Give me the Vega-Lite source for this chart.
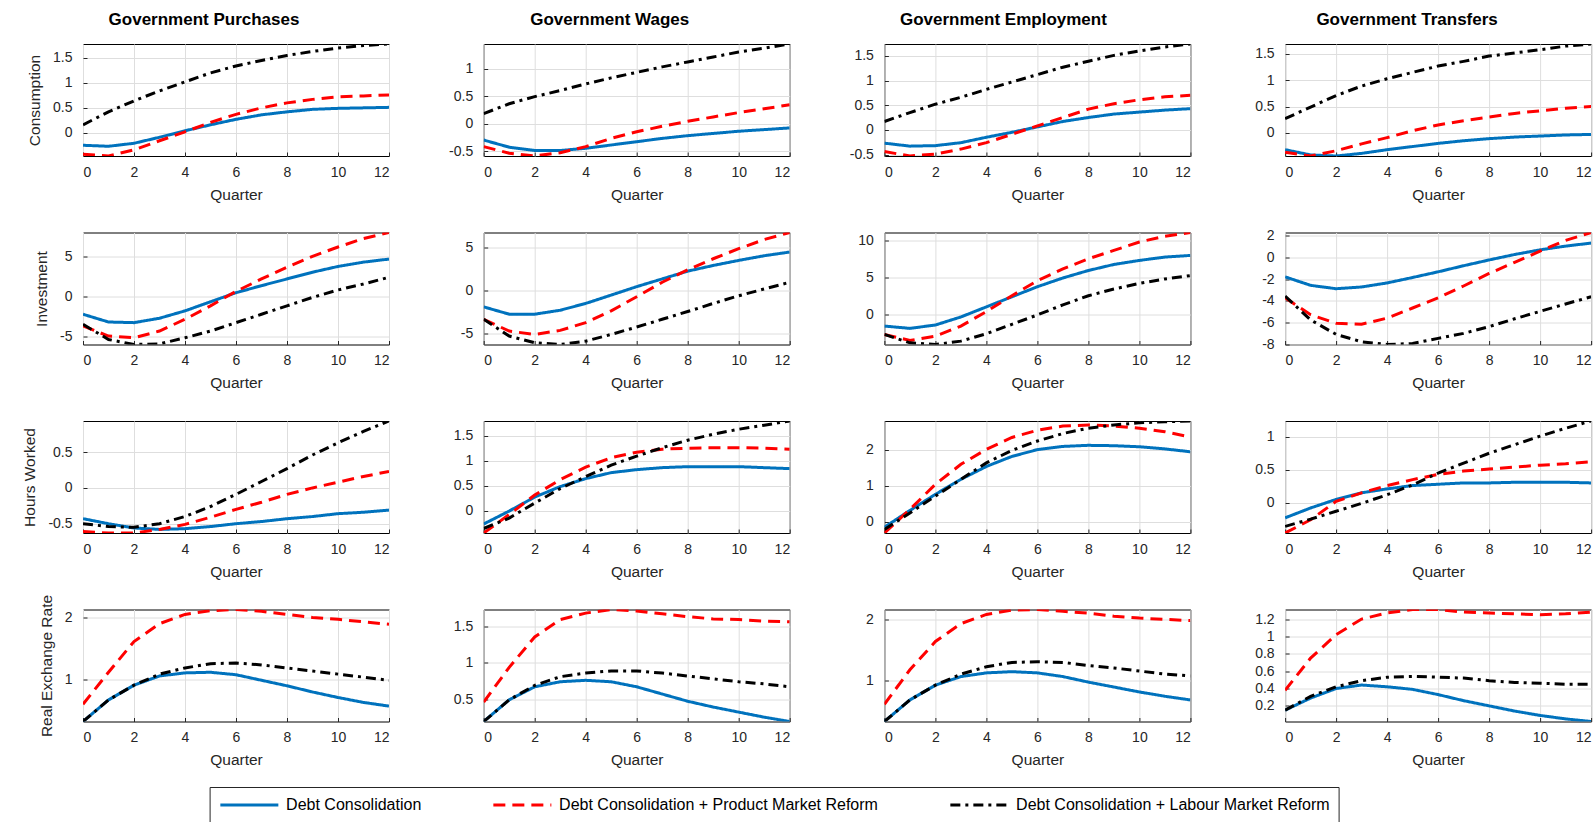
{
"$schema":"https://vega.github.io/schema/vega-lite/v6.json",
"padding":{"left":22,"top":10,"right":5,"bottom":5},
"background":"white",
"datasets":{"d":[
{"p":"CP","k":"DC","q":0,"v":-0.25},{"p":"CP","k":"DC","q":1,"v":-0.27},{"p":"CP","k":"DC","q":2,"v":-0.21},{"p":"CP","k":"DC","q":3,"v":-0.09},{"p":"CP","k":"DC","q":4,"v":0.04},{"p":"CP","k":"DC","q":5,"v":0.16},{"p":"CP","k":"DC","q":6,"v":0.27},{"p":"CP","k":"DC","q":7,"v":0.36},{"p":"CP","k":"DC","q":8,"v":0.42},{"p":"CP","k":"DC","q":9,"v":0.47},{"p":"CP","k":"DC","q":10,"v":0.49},{"p":"CP","k":"DC","q":11,"v":0.5},{"p":"CP","k":"DC","q":12,"v":0.51},
{"p":"CP","k":"PM","q":0,"v":-0.43},{"p":"CP","k":"PM","q":1,"v":-0.465},{"p":"CP","k":"PM","q":2,"v":-0.34},{"p":"CP","k":"PM","q":3,"v":-0.16},{"p":"CP","k":"PM","q":4,"v":0.02},{"p":"CP","k":"PM","q":5,"v":0.21},{"p":"CP","k":"PM","q":6,"v":0.37},{"p":"CP","k":"PM","q":7,"v":0.5},{"p":"CP","k":"PM","q":8,"v":0.6},{"p":"CP","k":"PM","q":9,"v":0.67},{"p":"CP","k":"PM","q":10,"v":0.72},{"p":"CP","k":"PM","q":11,"v":0.74},{"p":"CP","k":"PM","q":12,"v":0.76},
{"p":"CP","k":"LM","q":0,"v":0.16},{"p":"CP","k":"LM","q":1,"v":0.42},{"p":"CP","k":"LM","q":2,"v":0.64},{"p":"CP","k":"LM","q":3,"v":0.84},{"p":"CP","k":"LM","q":4,"v":1.02},{"p":"CP","k":"LM","q":5,"v":1.2},{"p":"CP","k":"LM","q":6,"v":1.34},{"p":"CP","k":"LM","q":7,"v":1.45},{"p":"CP","k":"LM","q":8,"v":1.55},{"p":"CP","k":"LM","q":9,"v":1.63},{"p":"CP","k":"LM","q":10,"v":1.7},{"p":"CP","k":"LM","q":11,"v":1.75},{"p":"CP","k":"LM","q":12,"v":1.78},
{"p":"CW","k":"DC","q":0,"v":-0.3},{"p":"CW","k":"DC","q":1,"v":-0.43},{"p":"CW","k":"DC","q":2,"v":-0.49},{"p":"CW","k":"DC","q":3,"v":-0.49},{"p":"CW","k":"DC","q":4,"v":-0.45},{"p":"CW","k":"DC","q":5,"v":-0.39},{"p":"CW","k":"DC","q":6,"v":-0.33},{"p":"CW","k":"DC","q":7,"v":-0.27},{"p":"CW","k":"DC","q":8,"v":-0.22},{"p":"CW","k":"DC","q":9,"v":-0.18},{"p":"CW","k":"DC","q":10,"v":-0.14},{"p":"CW","k":"DC","q":11,"v":-0.11},{"p":"CW","k":"DC","q":12,"v":-0.08},
{"p":"CW","k":"PM","q":0,"v":-0.42},{"p":"CW","k":"PM","q":1,"v":-0.54},{"p":"CW","k":"PM","q":2,"v":-0.59},{"p":"CW","k":"PM","q":3,"v":-0.53},{"p":"CW","k":"PM","q":4,"v":-0.42},{"p":"CW","k":"PM","q":5,"v":-0.27},{"p":"CW","k":"PM","q":6,"v":-0.15},{"p":"CW","k":"PM","q":7,"v":-0.05},{"p":"CW","k":"PM","q":8,"v":0.04},{"p":"CW","k":"PM","q":9,"v":0.12},{"p":"CW","k":"PM","q":10,"v":0.2},{"p":"CW","k":"PM","q":11,"v":0.27},{"p":"CW","k":"PM","q":12,"v":0.34},
{"p":"CW","k":"LM","q":0,"v":0.18},{"p":"CW","k":"LM","q":1,"v":0.36},{"p":"CW","k":"LM","q":2,"v":0.49},{"p":"CW","k":"LM","q":3,"v":0.6},{"p":"CW","k":"LM","q":4,"v":0.72},{"p":"CW","k":"LM","q":5,"v":0.83},{"p":"CW","k":"LM","q":6,"v":0.93},{"p":"CW","k":"LM","q":7,"v":1.03},{"p":"CW","k":"LM","q":8,"v":1.12},{"p":"CW","k":"LM","q":9,"v":1.21},{"p":"CW","k":"LM","q":10,"v":1.3},{"p":"CW","k":"LM","q":11,"v":1.37},{"p":"CW","k":"LM","q":12,"v":1.446},
{"p":"CE","k":"DC","q":0,"v":-0.27},{"p":"CE","k":"DC","q":1,"v":-0.33},{"p":"CE","k":"DC","q":2,"v":-0.32},{"p":"CE","k":"DC","q":3,"v":-0.26},{"p":"CE","k":"DC","q":4,"v":-0.15},{"p":"CE","k":"DC","q":5,"v":-0.05},{"p":"CE","k":"DC","q":6,"v":0.06},{"p":"CE","k":"DC","q":7,"v":0.17},{"p":"CE","k":"DC","q":8,"v":0.25},{"p":"CE","k":"DC","q":9,"v":0.32},{"p":"CE","k":"DC","q":10,"v":0.36},{"p":"CE","k":"DC","q":11,"v":0.4},{"p":"CE","k":"DC","q":12,"v":0.43},
{"p":"CE","k":"PM","q":0,"v":-0.44},{"p":"CE","k":"PM","q":1,"v":-0.53},{"p":"CE","k":"PM","q":2,"v":-0.49},{"p":"CE","k":"PM","q":3,"v":-0.39},{"p":"CE","k":"PM","q":4,"v":-0.26},{"p":"CE","k":"PM","q":5,"v":-0.09},{"p":"CE","k":"PM","q":6,"v":0.08},{"p":"CE","k":"PM","q":7,"v":0.25},{"p":"CE","k":"PM","q":8,"v":0.42},{"p":"CE","k":"PM","q":9,"v":0.53},{"p":"CE","k":"PM","q":10,"v":0.61},{"p":"CE","k":"PM","q":11,"v":0.67},{"p":"CE","k":"PM","q":12,"v":0.7},
{"p":"CE","k":"LM","q":0,"v":0.17},{"p":"CE","k":"LM","q":1,"v":0.35},{"p":"CE","k":"LM","q":2,"v":0.52},{"p":"CE","k":"LM","q":3,"v":0.66},{"p":"CE","k":"LM","q":4,"v":0.82},{"p":"CE","k":"LM","q":5,"v":0.97},{"p":"CE","k":"LM","q":6,"v":1.12},{"p":"CE","k":"LM","q":7,"v":1.27},{"p":"CE","k":"LM","q":8,"v":1.39},{"p":"CE","k":"LM","q":9,"v":1.51},{"p":"CE","k":"LM","q":10,"v":1.6},{"p":"CE","k":"LM","q":11,"v":1.68},{"p":"CE","k":"LM","q":12,"v":1.74},
{"p":"CT","k":"DC","q":0,"v":-0.32},{"p":"CT","k":"DC","q":1,"v":-0.42},{"p":"CT","k":"DC","q":2,"v":-0.44},{"p":"CT","k":"DC","q":3,"v":-0.39},{"p":"CT","k":"DC","q":4,"v":-0.32},{"p":"CT","k":"DC","q":5,"v":-0.26},{"p":"CT","k":"DC","q":6,"v":-0.2},{"p":"CT","k":"DC","q":7,"v":-0.15},{"p":"CT","k":"DC","q":8,"v":-0.11},{"p":"CT","k":"DC","q":9,"v":-0.08},{"p":"CT","k":"DC","q":10,"v":-0.06},{"p":"CT","k":"DC","q":11,"v":-0.04},{"p":"CT","k":"DC","q":12,"v":-0.03},
{"p":"CT","k":"PM","q":0,"v":-0.37},{"p":"CT","k":"PM","q":1,"v":-0.44},{"p":"CT","k":"PM","q":2,"v":-0.34},{"p":"CT","k":"PM","q":3,"v":-0.21},{"p":"CT","k":"PM","q":4,"v":-0.09},{"p":"CT","k":"PM","q":5,"v":0.04},{"p":"CT","k":"PM","q":6,"v":0.15},{"p":"CT","k":"PM","q":7,"v":0.23},{"p":"CT","k":"PM","q":8,"v":0.3},{"p":"CT","k":"PM","q":9,"v":0.37},{"p":"CT","k":"PM","q":10,"v":0.42},{"p":"CT","k":"PM","q":11,"v":0.47},{"p":"CT","k":"PM","q":12,"v":0.5},
{"p":"CT","k":"LM","q":0,"v":0.27},{"p":"CT","k":"LM","q":1,"v":0.49},{"p":"CT","k":"LM","q":2,"v":0.71},{"p":"CT","k":"LM","q":3,"v":0.89},{"p":"CT","k":"LM","q":4,"v":1.03},{"p":"CT","k":"LM","q":5,"v":1.15},{"p":"CT","k":"LM","q":6,"v":1.27},{"p":"CT","k":"LM","q":7,"v":1.36},{"p":"CT","k":"LM","q":8,"v":1.46},{"p":"CT","k":"LM","q":9,"v":1.52},{"p":"CT","k":"LM","q":10,"v":1.58},{"p":"CT","k":"LM","q":11,"v":1.65},{"p":"CT","k":"LM","q":12,"v":1.69},
{"p":"IP","k":"DC","q":0,"v":-2.27},{"p":"IP","k":"DC","q":1,"v":-3.24},{"p":"IP","k":"DC","q":2,"v":-3.32},{"p":"IP","k":"DC","q":3,"v":-2.77},{"p":"IP","k":"DC","q":4,"v":-1.85},{"p":"IP","k":"DC","q":5,"v":-0.71},{"p":"IP","k":"DC","q":6,"v":0.42},{"p":"IP","k":"DC","q":7,"v":1.3},{"p":"IP","k":"DC","q":8,"v":2.14},{"p":"IP","k":"DC","q":9,"v":2.98},{"p":"IP","k":"DC","q":10,"v":3.7},{"p":"IP","k":"DC","q":11,"v":4.24},{"p":"IP","k":"DC","q":12,"v":4.62},
{"p":"IP","k":"PM","q":0,"v":-3.74},{"p":"IP","k":"PM","q":1,"v":-5.0},{"p":"IP","k":"PM","q":2,"v":-5.21},{"p":"IP","k":"PM","q":3,"v":-4.37},{"p":"IP","k":"PM","q":4,"v":-2.9},{"p":"IP","k":"PM","q":5,"v":-1.22},{"p":"IP","k":"PM","q":6,"v":0.59},{"p":"IP","k":"PM","q":7,"v":2.14},{"p":"IP","k":"PM","q":8,"v":3.61},{"p":"IP","k":"PM","q":9,"v":4.96},{"p":"IP","k":"PM","q":10,"v":6.13},{"p":"IP","k":"PM","q":11,"v":7.18},{"p":"IP","k":"PM","q":12,"v":7.94},
{"p":"IP","k":"LM","q":0,"v":-3.53},{"p":"IP","k":"LM","q":1,"v":-5.42},{"p":"IP","k":"LM","q":2,"v":-6.05},{"p":"IP","k":"LM","q":3,"v":-5.97},{"p":"IP","k":"LM","q":4,"v":-5.21},{"p":"IP","k":"LM","q":5,"v":-4.37},{"p":"IP","k":"LM","q":6,"v":-3.32},{"p":"IP","k":"LM","q":7,"v":-2.27},{"p":"IP","k":"LM","q":8,"v":-1.22},{"p":"IP","k":"LM","q":9,"v":-0.17},{"p":"IP","k":"LM","q":10,"v":0.76},{"p":"IP","k":"LM","q":11,"v":1.51},{"p":"IP","k":"LM","q":12,"v":2.35},
{"p":"IW","k":"DC","q":0,"v":-1.88},{"p":"IW","k":"DC","q":1,"v":-2.73},{"p":"IW","k":"DC","q":2,"v":-2.73},{"p":"IW","k":"DC","q":3,"v":-2.27},{"p":"IW","k":"DC","q":4,"v":-1.48},{"p":"IW","k":"DC","q":5,"v":-0.51},{"p":"IW","k":"DC","q":6,"v":0.47},{"p":"IW","k":"DC","q":7,"v":1.37},{"p":"IW","k":"DC","q":8,"v":2.27},{"p":"IW","k":"DC","q":9,"v":2.93},{"p":"IW","k":"DC","q":10,"v":3.52},{"p":"IW","k":"DC","q":11,"v":4.06},{"p":"IW","k":"DC","q":12,"v":4.49},
{"p":"IW","k":"PM","q":0,"v":-3.32},{"p":"IW","k":"PM","q":1,"v":-4.69},{"p":"IW","k":"PM","q":2,"v":-5.08},{"p":"IW","k":"PM","q":3,"v":-4.61},{"p":"IW","k":"PM","q":4,"v":-3.71},{"p":"IW","k":"PM","q":5,"v":-2.34},{"p":"IW","k":"PM","q":6,"v":-0.7},{"p":"IW","k":"PM","q":7,"v":0.98},{"p":"IW","k":"PM","q":8,"v":2.42},{"p":"IW","k":"PM","q":9,"v":3.71},{"p":"IW","k":"PM","q":10,"v":4.88},{"p":"IW","k":"PM","q":11,"v":5.94},{"p":"IW","k":"PM","q":12,"v":6.76},
{"p":"IW","k":"LM","q":0,"v":-3.32},{"p":"IW","k":"LM","q":1,"v":-5.27},{"p":"IW","k":"LM","q":2,"v":-6.05},{"p":"IW","k":"LM","q":3,"v":-6.25},{"p":"IW","k":"LM","q":4,"v":-5.86},{"p":"IW","k":"LM","q":5,"v":-5.08},{"p":"IW","k":"LM","q":6,"v":-4.22},{"p":"IW","k":"LM","q":7,"v":-3.32},{"p":"IW","k":"LM","q":8,"v":-2.42},{"p":"IW","k":"LM","q":9,"v":-1.48},{"p":"IW","k":"LM","q":10,"v":-0.59},{"p":"IW","k":"LM","q":11,"v":0.2},{"p":"IW","k":"LM","q":12,"v":0.98},
{"p":"IE","k":"DC","q":0,"v":-1.49},{"p":"IE","k":"DC","q":1,"v":-1.8},{"p":"IE","k":"DC","q":2,"v":-1.35},{"p":"IE","k":"DC","q":3,"v":-0.27},{"p":"IE","k":"DC","q":4,"v":1.08},{"p":"IE","k":"DC","q":5,"v":2.43},{"p":"IE","k":"DC","q":6,"v":3.78},{"p":"IE","k":"DC","q":7,"v":4.95},{"p":"IE","k":"DC","q":8,"v":5.95},{"p":"IE","k":"DC","q":9,"v":6.76},{"p":"IE","k":"DC","q":10,"v":7.3},{"p":"IE","k":"DC","q":11,"v":7.75},{"p":"IE","k":"DC","q":12,"v":7.97},
{"p":"IE","k":"PM","q":0,"v":-2.61},{"p":"IE","k":"PM","q":1,"v":-3.42},{"p":"IE","k":"PM","q":2,"v":-2.84},{"p":"IE","k":"PM","q":3,"v":-1.49},{"p":"IE","k":"PM","q":4,"v":0.45},{"p":"IE","k":"PM","q":5,"v":2.57},{"p":"IE","k":"PM","q":6,"v":4.59},{"p":"IE","k":"PM","q":7,"v":6.17},{"p":"IE","k":"PM","q":8,"v":7.52},{"p":"IE","k":"PM","q":9,"v":8.65},{"p":"IE","k":"PM","q":10,"v":9.77},{"p":"IE","k":"PM","q":11,"v":10.54},{"p":"IE","k":"PM","q":12,"v":11.04},
{"p":"IE","k":"LM","q":0,"v":-2.61},{"p":"IE","k":"LM","q":1,"v":-3.74},{"p":"IE","k":"LM","q":2,"v":-3.96},{"p":"IE","k":"LM","q":3,"v":-3.51},{"p":"IE","k":"LM","q":4,"v":-2.52},{"p":"IE","k":"LM","q":5,"v":-1.26},{"p":"IE","k":"LM","q":6,"v":0},{"p":"IE","k":"LM","q":7,"v":1.35},{"p":"IE","k":"LM","q":8,"v":2.57},{"p":"IE","k":"LM","q":9,"v":3.47},{"p":"IE","k":"LM","q":10,"v":4.23},{"p":"IE","k":"LM","q":11,"v":4.82},{"p":"IE","k":"LM","q":12,"v":5.27},
{"p":"IT","k":"DC","q":0,"v":-1.8},{"p":"IT","k":"DC","q":1,"v":-2.58},{"p":"IT","k":"DC","q":2,"v":-2.89},{"p":"IT","k":"DC","q":3,"v":-2.73},{"p":"IT","k":"DC","q":4,"v":-2.36},{"p":"IT","k":"DC","q":5,"v":-1.86},{"p":"IT","k":"DC","q":6,"v":-1.34},{"p":"IT","k":"DC","q":7,"v":-0.78},{"p":"IT","k":"DC","q":8,"v":-0.25},{"p":"IT","k":"DC","q":9,"v":0.25},{"p":"IT","k":"DC","q":10,"v":0.68},{"p":"IT","k":"DC","q":11,"v":1.02},{"p":"IT","k":"DC","q":12,"v":1.3},
{"p":"IT","k":"PM","q":0,"v":-3.73},{"p":"IT","k":"PM","q":1,"v":-5.28},{"p":"IT","k":"PM","q":2,"v":-6.06},{"p":"IT","k":"PM","q":3,"v":-6.15},{"p":"IT","k":"PM","q":4,"v":-5.59},{"p":"IT","k":"PM","q":5,"v":-4.66},{"p":"IT","k":"PM","q":6,"v":-3.73},{"p":"IT","k":"PM","q":7,"v":-2.64},{"p":"IT","k":"PM","q":8,"v":-1.49},{"p":"IT","k":"PM","q":9,"v":-0.47},{"p":"IT","k":"PM","q":10,"v":0.56},{"p":"IT","k":"PM","q":11,"v":1.55},{"p":"IT","k":"PM","q":12,"v":2.27},
{"p":"IT","k":"LM","q":0,"v":-3.57},{"p":"IT","k":"LM","q":1,"v":-5.75},{"p":"IT","k":"LM","q":2,"v":-7.08},{"p":"IT","k":"LM","q":3,"v":-7.76},{"p":"IT","k":"LM","q":4,"v":-8.01},{"p":"IT","k":"LM","q":5,"v":-7.92},{"p":"IT","k":"LM","q":6,"v":-7.45},{"p":"IT","k":"LM","q":7,"v":-6.99},{"p":"IT","k":"LM","q":8,"v":-6.37},{"p":"IT","k":"LM","q":9,"v":-5.65},{"p":"IT","k":"LM","q":10,"v":-4.97},{"p":"IT","k":"LM","q":11,"v":-4.29},{"p":"IT","k":"LM","q":12,"v":-3.63},
{"p":"HP","k":"DC","q":0,"v":-0.43},{"p":"HP","k":"DC","q":1,"v":-0.5},{"p":"HP","k":"DC","q":2,"v":-0.56},{"p":"HP","k":"DC","q":3,"v":-0.58},{"p":"HP","k":"DC","q":4,"v":-0.57},{"p":"HP","k":"DC","q":5,"v":-0.54},{"p":"HP","k":"DC","q":6,"v":-0.5},{"p":"HP","k":"DC","q":7,"v":-0.47},{"p":"HP","k":"DC","q":8,"v":-0.43},{"p":"HP","k":"DC","q":9,"v":-0.4},{"p":"HP","k":"DC","q":10,"v":-0.36},{"p":"HP","k":"DC","q":11,"v":-0.34},{"p":"HP","k":"DC","q":12,"v":-0.31},
{"p":"HP","k":"PM","q":0,"v":-0.61},{"p":"HP","k":"PM","q":1,"v":-0.63},{"p":"HP","k":"PM","q":2,"v":-0.63},{"p":"HP","k":"PM","q":3,"v":-0.58},{"p":"HP","k":"PM","q":4,"v":-0.51},{"p":"HP","k":"PM","q":5,"v":-0.41},{"p":"HP","k":"PM","q":6,"v":-0.3},{"p":"HP","k":"PM","q":7,"v":-0.2},{"p":"HP","k":"PM","q":8,"v":-0.09},{"p":"HP","k":"PM","q":9,"v":0},{"p":"HP","k":"PM","q":10,"v":0.08},{"p":"HP","k":"PM","q":11,"v":0.16},{"p":"HP","k":"PM","q":12,"v":0.23},
{"p":"HP","k":"LM","q":0,"v":-0.5},{"p":"HP","k":"LM","q":1,"v":-0.54},{"p":"HP","k":"LM","q":2,"v":-0.55},{"p":"HP","k":"LM","q":3,"v":-0.5},{"p":"HP","k":"LM","q":4,"v":-0.4},{"p":"HP","k":"LM","q":5,"v":-0.26},{"p":"HP","k":"LM","q":6,"v":-0.09},{"p":"HP","k":"LM","q":7,"v":0.09},{"p":"HP","k":"LM","q":8,"v":0.27},{"p":"HP","k":"LM","q":9,"v":0.46},{"p":"HP","k":"LM","q":10,"v":0.63},{"p":"HP","k":"LM","q":11,"v":0.79},{"p":"HP","k":"LM","q":12,"v":0.935},
{"p":"HW","k":"DC","q":0,"v":-0.27},{"p":"HW","k":"DC","q":1,"v":-0.01},{"p":"HW","k":"DC","q":2,"v":0.27},{"p":"HW","k":"DC","q":3,"v":0.48},{"p":"HW","k":"DC","q":4,"v":0.64},{"p":"HW","k":"DC","q":5,"v":0.76},{"p":"HW","k":"DC","q":6,"v":0.82},{"p":"HW","k":"DC","q":7,"v":0.86},{"p":"HW","k":"DC","q":8,"v":0.88},{"p":"HW","k":"DC","q":9,"v":0.88},{"p":"HW","k":"DC","q":10,"v":0.88},{"p":"HW","k":"DC","q":11,"v":0.86},{"p":"HW","k":"DC","q":12,"v":0.84},
{"p":"HW","k":"PM","q":0,"v":-0.45},{"p":"HW","k":"PM","q":1,"v":-0.08},{"p":"HW","k":"PM","q":2,"v":0.31},{"p":"HW","k":"PM","q":3,"v":0.62},{"p":"HW","k":"PM","q":4,"v":0.87},{"p":"HW","k":"PM","q":5,"v":1.06},{"p":"HW","k":"PM","q":6,"v":1.17},{"p":"HW","k":"PM","q":7,"v":1.23},{"p":"HW","k":"PM","q":8,"v":1.25},{"p":"HW","k":"PM","q":9,"v":1.26},{"p":"HW","k":"PM","q":10,"v":1.26},{"p":"HW","k":"PM","q":11,"v":1.25},{"p":"HW","k":"PM","q":12,"v":1.23},
{"p":"HW","k":"LM","q":0,"v":-0.36},{"p":"HW","k":"LM","q":1,"v":-0.15},{"p":"HW","k":"LM","q":2,"v":0.15},{"p":"HW","k":"LM","q":3,"v":0.44},{"p":"HW","k":"LM","q":4,"v":0.68},{"p":"HW","k":"LM","q":5,"v":0.91},{"p":"HW","k":"LM","q":6,"v":1.09},{"p":"HW","k":"LM","q":7,"v":1.26},{"p":"HW","k":"LM","q":8,"v":1.41},{"p":"HW","k":"LM","q":9,"v":1.53},{"p":"HW","k":"LM","q":10,"v":1.63},{"p":"HW","k":"LM","q":11,"v":1.71},{"p":"HW","k":"LM","q":12,"v":1.795},
{"p":"HE","k":"DC","q":0,"v":-0.16},{"p":"HE","k":"DC","q":1,"v":0.31},{"p":"HE","k":"DC","q":2,"v":0.76},{"p":"HE","k":"DC","q":3,"v":1.18},{"p":"HE","k":"DC","q":4,"v":1.54},{"p":"HE","k":"DC","q":5,"v":1.82},{"p":"HE","k":"DC","q":6,"v":2.01},{"p":"HE","k":"DC","q":7,"v":2.1},{"p":"HE","k":"DC","q":8,"v":2.13},{"p":"HE","k":"DC","q":9,"v":2.12},{"p":"HE","k":"DC","q":10,"v":2.09},{"p":"HE","k":"DC","q":11,"v":2.03},{"p":"HE","k":"DC","q":12,"v":1.95},
{"p":"HE","k":"PM","q":0,"v":-0.32},{"p":"HE","k":"PM","q":1,"v":0.34},{"p":"HE","k":"PM","q":2,"v":1.04},{"p":"HE","k":"PM","q":3,"v":1.6},{"p":"HE","k":"PM","q":4,"v":2.02},{"p":"HE","k":"PM","q":5,"v":2.35},{"p":"HE","k":"PM","q":6,"v":2.55},{"p":"HE","k":"PM","q":7,"v":2.67},{"p":"HE","k":"PM","q":8,"v":2.7},{"p":"HE","k":"PM","q":9,"v":2.67},{"p":"HE","k":"PM","q":10,"v":2.61},{"p":"HE","k":"PM","q":11,"v":2.51},{"p":"HE","k":"PM","q":12,"v":2.36},
{"p":"HE","k":"LM","q":0,"v":-0.22},{"p":"HE","k":"LM","q":1,"v":0.24},{"p":"HE","k":"LM","q":2,"v":0.71},{"p":"HE","k":"LM","q":3,"v":1.18},{"p":"HE","k":"LM","q":4,"v":1.64},{"p":"HE","k":"LM","q":5,"v":1.99},{"p":"HE","k":"LM","q":6,"v":2.25},{"p":"HE","k":"LM","q":7,"v":2.46},{"p":"HE","k":"LM","q":8,"v":2.61},{"p":"HE","k":"LM","q":9,"v":2.7},{"p":"HE","k":"LM","q":10,"v":2.76},{"p":"HE","k":"LM","q":11,"v":2.79},{"p":"HE","k":"LM","q":12,"v":2.81},
{"p":"HT","k":"DC","q":0,"v":-0.23},{"p":"HT","k":"DC","q":1,"v":-0.08},{"p":"HT","k":"DC","q":2,"v":0.05},{"p":"HT","k":"DC","q":3,"v":0.15},{"p":"HT","k":"DC","q":4,"v":0.21},{"p":"HT","k":"DC","q":5,"v":0.26},{"p":"HT","k":"DC","q":6,"v":0.28},{"p":"HT","k":"DC","q":7,"v":0.3},{"p":"HT","k":"DC","q":8,"v":0.3},{"p":"HT","k":"DC","q":9,"v":0.31},{"p":"HT","k":"DC","q":10,"v":0.31},{"p":"HT","k":"DC","q":11,"v":0.31},{"p":"HT","k":"DC","q":12,"v":0.3},
{"p":"HT","k":"PM","q":0,"v":-0.46},{"p":"HT","k":"PM","q":1,"v":-0.26},{"p":"HT","k":"PM","q":2,"v":0.02},{"p":"HT","k":"PM","q":3,"v":0.15},{"p":"HT","k":"PM","q":4,"v":0.26},{"p":"HT","k":"PM","q":5,"v":0.35},{"p":"HT","k":"PM","q":6,"v":0.43},{"p":"HT","k":"PM","q":7,"v":0.48},{"p":"HT","k":"PM","q":8,"v":0.51},{"p":"HT","k":"PM","q":9,"v":0.54},{"p":"HT","k":"PM","q":10,"v":0.57},{"p":"HT","k":"PM","q":11,"v":0.59},{"p":"HT","k":"PM","q":12,"v":0.62},
{"p":"HT","k":"LM","q":0,"v":-0.36},{"p":"HT","k":"LM","q":1,"v":-0.25},{"p":"HT","k":"LM","q":2,"v":-0.13},{"p":"HT","k":"LM","q":3,"v":-0.01},{"p":"HT","k":"LM","q":4,"v":0.12},{"p":"HT","k":"LM","q":5,"v":0.27},{"p":"HT","k":"LM","q":6,"v":0.45},{"p":"HT","k":"LM","q":7,"v":0.6},{"p":"HT","k":"LM","q":8,"v":0.75},{"p":"HT","k":"LM","q":9,"v":0.88},{"p":"HT","k":"LM","q":10,"v":1.01},{"p":"HT","k":"LM","q":11,"v":1.13},{"p":"HT","k":"LM","q":12,"v":1.24},
{"p":"RP","k":"DC","q":0,"v":0.31},{"p":"RP","k":"DC","q":1,"v":0.66},{"p":"RP","k":"DC","q":2,"v":0.9},{"p":"RP","k":"DC","q":3,"v":1.05},{"p":"RP","k":"DC","q":4,"v":1.1},{"p":"RP","k":"DC","q":5,"v":1.11},{"p":"RP","k":"DC","q":6,"v":1.07},{"p":"RP","k":"DC","q":7,"v":0.98},{"p":"RP","k":"DC","q":8,"v":0.89},{"p":"RP","k":"DC","q":9,"v":0.79},{"p":"RP","k":"DC","q":10,"v":0.7},{"p":"RP","k":"DC","q":11,"v":0.62},{"p":"RP","k":"DC","q":12,"v":0.56},
{"p":"RP","k":"PM","q":0,"v":0.59},{"p":"RP","k":"PM","q":1,"v":1.11},{"p":"RP","k":"PM","q":2,"v":1.61},{"p":"RP","k":"PM","q":3,"v":1.9},{"p":"RP","k":"PM","q":4,"v":2.05},{"p":"RP","k":"PM","q":5,"v":2.11},{"p":"RP","k":"PM","q":6,"v":2.13},{"p":"RP","k":"PM","q":7,"v":2.1},{"p":"RP","k":"PM","q":8,"v":2.05},{"p":"RP","k":"PM","q":9,"v":2.0},{"p":"RP","k":"PM","q":10,"v":1.97},{"p":"RP","k":"PM","q":11,"v":1.93},{"p":"RP","k":"PM","q":12,"v":1.89},
{"p":"RP","k":"LM","q":0,"v":0.31},{"p":"RP","k":"LM","q":1,"v":0.66},{"p":"RP","k":"LM","q":2,"v":0.9},{"p":"RP","k":"LM","q":3,"v":1.08},{"p":"RP","k":"LM","q":4,"v":1.18},{"p":"RP","k":"LM","q":5,"v":1.25},{"p":"RP","k":"LM","q":6,"v":1.26},{"p":"RP","k":"LM","q":7,"v":1.23},{"p":"RP","k":"LM","q":8,"v":1.18},{"p":"RP","k":"LM","q":9,"v":1.13},{"p":"RP","k":"LM","q":10,"v":1.08},{"p":"RP","k":"LM","q":11,"v":1.03},{"p":"RP","k":"LM","q":12,"v":0.98},
{"p":"RW","k":"DC","q":0,"v":0.19},{"p":"RW","k":"DC","q":1,"v":0.49},{"p":"RW","k":"DC","q":2,"v":0.67},{"p":"RW","k":"DC","q":3,"v":0.74},{"p":"RW","k":"DC","q":4,"v":0.76},{"p":"RW","k":"DC","q":5,"v":0.74},{"p":"RW","k":"DC","q":6,"v":0.67},{"p":"RW","k":"DC","q":7,"v":0.57},{"p":"RW","k":"DC","q":8,"v":0.47},{"p":"RW","k":"DC","q":9,"v":0.39},{"p":"RW","k":"DC","q":10,"v":0.32},{"p":"RW","k":"DC","q":11,"v":0.25},{"p":"RW","k":"DC","q":12,"v":0.19},
{"p":"RW","k":"PM","q":0,"v":0.46},{"p":"RW","k":"PM","q":1,"v":0.94},{"p":"RW","k":"PM","q":2,"v":1.36},{"p":"RW","k":"PM","q":3,"v":1.6},{"p":"RW","k":"PM","q":4,"v":1.69},{"p":"RW","k":"PM","q":5,"v":1.74},{"p":"RW","k":"PM","q":6,"v":1.72},{"p":"RW","k":"PM","q":7,"v":1.68},{"p":"RW","k":"PM","q":8,"v":1.64},{"p":"RW","k":"PM","q":9,"v":1.61},{"p":"RW","k":"PM","q":10,"v":1.6},{"p":"RW","k":"PM","q":11,"v":1.58},{"p":"RW","k":"PM","q":12,"v":1.57},
{"p":"RW","k":"LM","q":0,"v":0.19},{"p":"RW","k":"LM","q":1,"v":0.49},{"p":"RW","k":"LM","q":2,"v":0.69},{"p":"RW","k":"LM","q":3,"v":0.81},{"p":"RW","k":"LM","q":4,"v":0.86},{"p":"RW","k":"LM","q":5,"v":0.89},{"p":"RW","k":"LM","q":6,"v":0.89},{"p":"RW","k":"LM","q":7,"v":0.86},{"p":"RW","k":"LM","q":8,"v":0.82},{"p":"RW","k":"LM","q":9,"v":0.78},{"p":"RW","k":"LM","q":10,"v":0.74},{"p":"RW","k":"LM","q":11,"v":0.71},{"p":"RW","k":"LM","q":12,"v":0.67},
{"p":"RE","k":"DC","q":0,"v":0.34},{"p":"RE","k":"DC","q":1,"v":0.69},{"p":"RE","k":"DC","q":2,"v":0.93},{"p":"RE","k":"DC","q":3,"v":1.07},{"p":"RE","k":"DC","q":4,"v":1.13},{"p":"RE","k":"DC","q":5,"v":1.15},{"p":"RE","k":"DC","q":6,"v":1.13},{"p":"RE","k":"DC","q":7,"v":1.07},{"p":"RE","k":"DC","q":8,"v":0.98},{"p":"RE","k":"DC","q":9,"v":0.9},{"p":"RE","k":"DC","q":10,"v":0.82},{"p":"RE","k":"DC","q":11,"v":0.75},{"p":"RE","k":"DC","q":12,"v":0.69},
{"p":"RE","k":"PM","q":0,"v":0.62},{"p":"RE","k":"PM","q":1,"v":1.18},{"p":"RE","k":"PM","q":2,"v":1.64},{"p":"RE","k":"PM","q":3,"v":1.93},{"p":"RE","k":"PM","q":4,"v":2.08},{"p":"RE","k":"PM","q":5,"v":2.15},{"p":"RE","k":"PM","q":6,"v":2.16},{"p":"RE","k":"PM","q":7,"v":2.13},{"p":"RE","k":"PM","q":8,"v":2.1},{"p":"RE","k":"PM","q":9,"v":2.05},{"p":"RE","k":"PM","q":10,"v":2.02},{"p":"RE","k":"PM","q":11,"v":2.0},{"p":"RE","k":"PM","q":12,"v":1.98},
{"p":"RE","k":"LM","q":0,"v":0.34},{"p":"RE","k":"LM","q":1,"v":0.69},{"p":"RE","k":"LM","q":2,"v":0.93},{"p":"RE","k":"LM","q":3,"v":1.11},{"p":"RE","k":"LM","q":4,"v":1.23},{"p":"RE","k":"LM","q":5,"v":1.3},{"p":"RE","k":"LM","q":6,"v":1.31},{"p":"RE","k":"LM","q":7,"v":1.3},{"p":"RE","k":"LM","q":8,"v":1.25},{"p":"RE","k":"LM","q":9,"v":1.21},{"p":"RE","k":"LM","q":10,"v":1.16},{"p":"RE","k":"LM","q":11,"v":1.11},{"p":"RE","k":"LM","q":12,"v":1.08},
{"p":"RT","k":"DC","q":0,"v":0.15},{"p":"RT","k":"DC","q":1,"v":0.29},{"p":"RT","k":"DC","q":2,"v":0.4},{"p":"RT","k":"DC","q":3,"v":0.44},{"p":"RT","k":"DC","q":4,"v":0.42},{"p":"RT","k":"DC","q":5,"v":0.39},{"p":"RT","k":"DC","q":6,"v":0.33},{"p":"RT","k":"DC","q":7,"v":0.26},{"p":"RT","k":"DC","q":8,"v":0.2},{"p":"RT","k":"DC","q":9,"v":0.14},{"p":"RT","k":"DC","q":10,"v":0.09},{"p":"RT","k":"DC","q":11,"v":0.05},{"p":"RT","k":"DC","q":12,"v":0.02},
{"p":"RT","k":"PM","q":0,"v":0.38},{"p":"RT","k":"PM","q":1,"v":0.75},{"p":"RT","k":"PM","q":2,"v":1.02},{"p":"RT","k":"PM","q":3,"v":1.2},{"p":"RT","k":"PM","q":4,"v":1.27},{"p":"RT","k":"PM","q":5,"v":1.31},{"p":"RT","k":"PM","q":6,"v":1.31},{"p":"RT","k":"PM","q":7,"v":1.28},{"p":"RT","k":"PM","q":8,"v":1.27},{"p":"RT","k":"PM","q":9,"v":1.26},{"p":"RT","k":"PM","q":10,"v":1.25},{"p":"RT","k":"PM","q":11,"v":1.26},{"p":"RT","k":"PM","q":12,"v":1.28},
{"p":"RT","k":"LM","q":0,"v":0.15},{"p":"RT","k":"LM","q":1,"v":0.31},{"p":"RT","k":"LM","q":2,"v":0.42},{"p":"RT","k":"LM","q":3,"v":0.49},{"p":"RT","k":"LM","q":4,"v":0.53},{"p":"RT","k":"LM","q":5,"v":0.54},{"p":"RT","k":"LM","q":6,"v":0.53},{"p":"RT","k":"LM","q":7,"v":0.52},{"p":"RT","k":"LM","q":8,"v":0.49},{"p":"RT","k":"LM","q":9,"v":0.47},{"p":"RT","k":"LM","q":10,"v":0.46},{"p":"RT","k":"LM","q":11,"v":0.45},{"p":"RT","k":"LM","q":12,"v":0.45}
]},
"data":{"name":"d"},
"columns":4,
"spacing":{"row":76.5,"column":94.7},
"bounds":"flush",
"resolve":{"scale":{"x":"independent","y":"independent"},"axis":{"x":"independent","y":"independent"}},
"concat":[
{"title":{"text":"Government Purchases","dx":-32},"transform":[{"filter":"datum.p=='CP'"}],"mark":{"type":"line","strokeWidth":3,"clip":true},"encoding":{"x":{"field":"q","type":"quantitative","scale":{"domain":[0,12]},"axis":{"values":[0,2,4,6,8,10,12],"title":"Quarter"}},"y":{"field":"v","type":"quantitative","scale":{"domain":[-0.465,1.78],"nice":false,"zero":false},"axis":{"values":[0,0.5,1,1.5],"title":"Consumption"}},"color":{"field":"k","type":"nominal","scale":{"domain":["DC","PM","LM"],"range":["#0072BD","#FF0000","#000000"]},"legend":{"title":null,"labelExpr":"datum.value=='DC'?'Debt Consolidation':datum.value=='PM'?'Debt Consolidation + Product Market Reform':'Debt Consolidation + Labour Market Reform'"}},"strokeDash":{"field":"k","type":"nominal","scale":{"domain":["DC","PM","LM"],"range":[[1,0],[12,7],[10,5,3,5]]},"legend":{"title":null,"labelExpr":"datum.value=='DC'?'Debt Consolidation':datum.value=='PM'?'Debt Consolidation + Product Market Reform':'Debt Consolidation + Labour Market Reform'"}}}},
{"title":{"text":"Government Wages","dx":-27},"transform":[{"filter":"datum.p=='CW'"}],"mark":{"type":"line","strokeWidth":3,"clip":true},"encoding":{"x":{"field":"q","type":"quantitative","scale":{"domain":[0,12]},"axis":{"values":[0,2,4,6,8,10,12],"title":"Quarter"}},"y":{"field":"v","type":"quantitative","scale":{"domain":[-0.59,1.446],"nice":false,"zero":false},"axis":{"values":[-0.5,0,0.5,1],"title":null}},"color":{"field":"k","type":"nominal"},"strokeDash":{"field":"k","type":"nominal"}}},
{"title":{"text":"Government Employment","dx":-34},"transform":[{"filter":"datum.p=='CE'"}],"mark":{"type":"line","strokeWidth":3,"clip":true},"encoding":{"x":{"field":"q","type":"quantitative","scale":{"domain":[0,12]},"axis":{"values":[0,2,4,6,8,10,12],"title":"Quarter"}},"y":{"field":"v","type":"quantitative","scale":{"domain":[-0.53,1.74],"nice":false,"zero":false},"axis":{"values":[-0.5,0,0.5,1,1.5],"title":null}},"color":{"field":"k","type":"nominal"},"strokeDash":{"field":"k","type":"nominal"}}},
{"title":{"text":"Government Transfers","dx":-31},"transform":[{"filter":"datum.p=='CT'"}],"mark":{"type":"line","strokeWidth":3,"clip":true},"encoding":{"x":{"field":"q","type":"quantitative","scale":{"domain":[0,12]},"axis":{"values":[0,2,4,6,8,10,12],"title":"Quarter"}},"y":{"field":"v","type":"quantitative","scale":{"domain":[-0.44,1.69],"nice":false,"zero":false},"axis":{"values":[0,0.5,1,1.5],"title":null}},"color":{"field":"k","type":"nominal"},"strokeDash":{"field":"k","type":"nominal"}}},
{"transform":[{"filter":"datum.p=='IP'"}],"mark":{"type":"line","strokeWidth":3,"clip":true},"encoding":{"x":{"field":"q","type":"quantitative","scale":{"domain":[0,12]},"axis":{"values":[0,2,4,6,8,10,12],"title":"Quarter"}},"y":{"field":"v","type":"quantitative","scale":{"domain":[-6.05,7.94],"nice":false,"zero":false},"axis":{"values":[-5,0,5],"title":"Investment"}},"color":{"field":"k","type":"nominal"},"strokeDash":{"field":"k","type":"nominal"}}},
{"transform":[{"filter":"datum.p=='IW'"}],"mark":{"type":"line","strokeWidth":3,"clip":true},"encoding":{"x":{"field":"q","type":"quantitative","scale":{"domain":[0,12]},"axis":{"values":[0,2,4,6,8,10,12],"title":"Quarter"}},"y":{"field":"v","type":"quantitative","scale":{"domain":[-6.25,6.76],"nice":false,"zero":false},"axis":{"values":[-5,0,5],"title":null}},"color":{"field":"k","type":"nominal"},"strokeDash":{"field":"k","type":"nominal"}}},
{"transform":[{"filter":"datum.p=='IE'"}],"mark":{"type":"line","strokeWidth":3,"clip":true},"encoding":{"x":{"field":"q","type":"quantitative","scale":{"domain":[0,12]},"axis":{"values":[0,2,4,6,8,10,12],"title":"Quarter"}},"y":{"field":"v","type":"quantitative","scale":{"domain":[-3.96,11.04],"nice":false,"zero":false},"axis":{"values":[0,5,10],"title":null}},"color":{"field":"k","type":"nominal"},"strokeDash":{"field":"k","type":"nominal"}}},
{"transform":[{"filter":"datum.p=='IT'"}],"mark":{"type":"line","strokeWidth":3,"clip":true},"encoding":{"x":{"field":"q","type":"quantitative","scale":{"domain":[0,12]},"axis":{"values":[0,2,4,6,8,10,12],"title":"Quarter"}},"y":{"field":"v","type":"quantitative","scale":{"domain":[-8.01,2.27],"nice":false,"zero":false},"axis":{"values":[-8,-6,-4,-2,0,2],"title":null}},"color":{"field":"k","type":"nominal"},"strokeDash":{"field":"k","type":"nominal"}}},
{"transform":[{"filter":"datum.p=='HP'"}],"mark":{"type":"line","strokeWidth":3,"clip":true},"encoding":{"x":{"field":"q","type":"quantitative","scale":{"domain":[0,12]},"axis":{"values":[0,2,4,6,8,10,12],"title":"Quarter"}},"y":{"field":"v","type":"quantitative","scale":{"domain":[-0.63,0.935],"nice":false,"zero":false},"axis":{"values":[-0.5,0,0.5],"title":"Hours Worked"}},"color":{"field":"k","type":"nominal"},"strokeDash":{"field":"k","type":"nominal"}}},
{"transform":[{"filter":"datum.p=='HW'"}],"mark":{"type":"line","strokeWidth":3,"clip":true},"encoding":{"x":{"field":"q","type":"quantitative","scale":{"domain":[0,12]},"axis":{"values":[0,2,4,6,8,10,12],"title":"Quarter"}},"y":{"field":"v","type":"quantitative","scale":{"domain":[-0.45,1.795],"nice":false,"zero":false},"axis":{"values":[0,0.5,1,1.5],"title":null}},"color":{"field":"k","type":"nominal"},"strokeDash":{"field":"k","type":"nominal"}}},
{"transform":[{"filter":"datum.p=='HE'"}],"mark":{"type":"line","strokeWidth":3,"clip":true},"encoding":{"x":{"field":"q","type":"quantitative","scale":{"domain":[0,12]},"axis":{"values":[0,2,4,6,8,10,12],"title":"Quarter"}},"y":{"field":"v","type":"quantitative","scale":{"domain":[-0.32,2.81],"nice":false,"zero":false},"axis":{"values":[0,1,2],"title":null}},"color":{"field":"k","type":"nominal"},"strokeDash":{"field":"k","type":"nominal"}}},
{"transform":[{"filter":"datum.p=='HT'"}],"mark":{"type":"line","strokeWidth":3,"clip":true},"encoding":{"x":{"field":"q","type":"quantitative","scale":{"domain":[0,12]},"axis":{"values":[0,2,4,6,8,10,12],"title":"Quarter"}},"y":{"field":"v","type":"quantitative","scale":{"domain":[-0.46,1.24],"nice":false,"zero":false},"axis":{"values":[0,0.5,1],"title":null}},"color":{"field":"k","type":"nominal"},"strokeDash":{"field":"k","type":"nominal"}}},
{"transform":[{"filter":"datum.p=='RP'"}],"mark":{"type":"line","strokeWidth":3,"clip":true},"encoding":{"x":{"field":"q","type":"quantitative","scale":{"domain":[0,12]},"axis":{"values":[0,2,4,6,8,10,12],"title":"Quarter"}},"y":{"field":"v","type":"quantitative","scale":{"domain":[0.31,2.13],"nice":false,"zero":false},"axis":{"values":[1,2],"title":"Real Exchange Rate"}},"color":{"field":"k","type":"nominal"},"strokeDash":{"field":"k","type":"nominal"}}},
{"transform":[{"filter":"datum.p=='RW'"}],"mark":{"type":"line","strokeWidth":3,"clip":true},"encoding":{"x":{"field":"q","type":"quantitative","scale":{"domain":[0,12]},"axis":{"values":[0,2,4,6,8,10,12],"title":"Quarter"}},"y":{"field":"v","type":"quantitative","scale":{"domain":[0.19,1.74],"nice":false,"zero":false},"axis":{"values":[0.5,1,1.5],"title":null}},"color":{"field":"k","type":"nominal"},"strokeDash":{"field":"k","type":"nominal"}}},
{"transform":[{"filter":"datum.p=='RE'"}],"mark":{"type":"line","strokeWidth":3,"clip":true},"encoding":{"x":{"field":"q","type":"quantitative","scale":{"domain":[0,12]},"axis":{"values":[0,2,4,6,8,10,12],"title":"Quarter"}},"y":{"field":"v","type":"quantitative","scale":{"domain":[0.34,2.16],"nice":false,"zero":false},"axis":{"values":[1,2],"title":null}},"color":{"field":"k","type":"nominal"},"strokeDash":{"field":"k","type":"nominal"}}},
{"transform":[{"filter":"datum.p=='RT'"}],"mark":{"type":"line","strokeWidth":3,"clip":true},"encoding":{"x":{"field":"q","type":"quantitative","scale":{"domain":[0,12]},"axis":{"values":[0,2,4,6,8,10,12],"title":"Quarter"}},"y":{"field":"v","type":"quantitative","scale":{"domain":[0.02,1.31],"nice":false,"zero":false},"axis":{"values":[0.2,0.4,0.6,0.8,1,1.2],"title":null}},"color":{"field":"k","type":"nominal"},"strokeDash":{"field":"k","type":"nominal"}}}
],
"config":{
"font":"Liberation Sans",
"view":{"continuousWidth":306,"continuousHeight":112,"stroke":"#000000","strokeWidth":1},
"axis":{"labelFontSize":14,"labelColor":"#262626","labelExpr":"''+datum.value","titleFontSize":15.5,"titleFontWeight":"normal","titleColor":"#262626","domain":false,"tickColor":"#262626","tickSize":-4,"gridColor":"#dedede","grid":true},
"axisX":{"labelPadding":13,"titlePadding":8},
"axisY":{"labelPadding":15,"titlePadding":10},
"title":{"fontSize":17,"fontWeight":"bold","color":"#000000","anchor":"middle","baseline":"alphabetic","offset":15},
"legend":{"orient":"none","legendX":126.6,"legendY":743,"direction":"horizontal","columns":3,"symbolType":"M-1,0H7","symbolSize":210.25,"symbolStrokeWidth":3,"labelFontSize":16,"labelColor":"#000000","strokeColor":"#262626","padding":9,"columnPadding":65,"labelOffset":49.5,"labelLimit":0}
}
}
